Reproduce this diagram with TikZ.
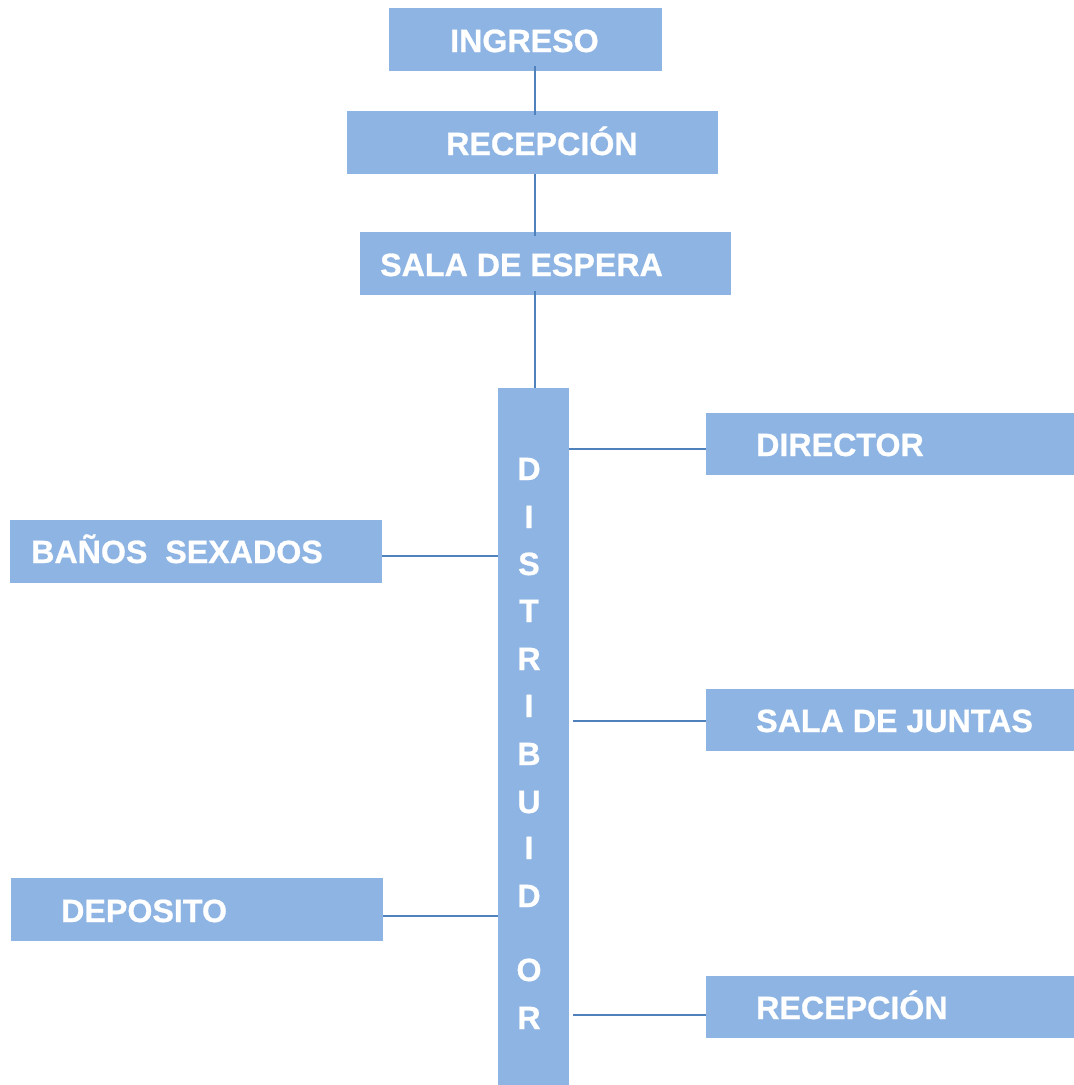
\documentclass[tikz,border=0pt]{standalone}
\usepackage{fontspec}
\setmainfont{Liberation Sans}
\newfontfamily\heavyfont{Liberation Sans Bold}[FakeBold=0.8]
\definecolor{boxblue}{HTML}{8EB4E3}
\definecolor{linkblue}{HTML}{4F81BD}
\begin{document}
\begin{tikzpicture}[x=1pt,y=-1pt,
  box/.style={rectangle,fill=boxblue,draw=none,inner sep=0pt,anchor=north west},
  lbl/.style={text=white,font=\heavyfont\fontsize{32.2}{36}\selectfont,inner sep=0pt,anchor=base west},
  vlet/.style={text=white,font=\heavyfont\fontsize{32.2}{36}\selectfont,inner sep=0pt,anchor=base},
  link/.style={draw=linkblue,line width=1.8pt}]
\useasboundingbox[fill=white] (0,0) rectangle (1074,1085);
% boxes
\node[box,minimum width=273pt,minimum height=63pt] (ingreso) at (389,8) {};
\node[box,minimum width=371pt,minimum height=63pt] (recep) at (347,111) {};
\node[box,minimum width=371pt,minimum height=63pt] (sala) at (360,232) {};
\node[box,minimum width=71pt,minimum height=697pt] (dist) at (498,388) {};
\node[box,minimum width=368pt,minimum height=62pt] (director) at (706,413) {};
\node[box,minimum width=372pt,minimum height=63pt] (banos) at (10,520) {};
\node[box,minimum width=368pt,minimum height=62pt] (juntas) at (706,689) {};
\node[box,minimum width=372pt,minimum height=63pt] (deposito) at (11,878) {};
\node[box,minimum width=368pt,minimum height=62pt] (recep2) at (706,976) {};
% labels
\node[lbl] (tingreso) at (450,52) {INGRESO};
\node[lbl] (trecep) at (446,155) {RECEPCIÓN};
\node[lbl] (tsala) at (380,276) {SALA DE ESPERA};
\node[lbl] (tdirector) at (756,456) {DIRECTOR};
\node[lbl] (tbanos) at (31,563) {BAÑOS\ \ SEXADOS};
\node[lbl] (tjuntas) at (756,732) {SALA DE JUNTAS};
\node[lbl] (tdeposito) at (61,922) {DEPOSITO};
\node[lbl] (trecep2) at (756,1019) {RECEPCIÓN};
% vertical word
\node[vlet] (d1) at (529,480) {D};
\node[vlet] (d2) at (529,528) {I};
\node[vlet] (d3) at (529,575) {S};
\node[vlet] (d4) at (529,622) {T};
\node[vlet] (d5) at (529,670) {R};
\node[vlet] (d6) at (529,717) {I};
\node[vlet] (d7) at (529,765) {B};
\node[vlet] (d8) at (529,813) {U};
\node[vlet] (d9) at (529,859) {I};
\node[vlet] (d10) at (529,907) {D};
\node[vlet] (d11) at (529,981) {O};
\node[vlet] (d12) at (529,1029) {R};
% connectors
\draw[link] ([xshift=1.5pt,yshift=5pt]dist.north |- ingreso.south) -- ([xshift=1.5pt,yshift=-4pt]dist.north |- recep.north);
\draw[link] ([xshift=1.5pt]dist.north |- recep.south) -- ([xshift=1.5pt,yshift=-4pt]dist.north |- sala.north);
\draw[link] ([xshift=1.5pt,yshift=4pt]dist.north |- sala.south) -- ([xshift=1.5pt]dist.north);
\draw[link] (dist.east |- 0,449) -- (director.west |- 0,449);
\draw[link] (banos.east |- 0,556) -- (dist.west |- 0,556);
\draw[link] ([xshift=4pt]dist.east |- 0,721) -- (juntas.west |- 0,721);
\draw[link] (deposito.east |- 0,916) -- (dist.west |- 0,916);
\draw[link] ([xshift=4pt]dist.east |- 0,1015) -- (recep2.west |- 0,1015);
\end{tikzpicture}
\end{document}
